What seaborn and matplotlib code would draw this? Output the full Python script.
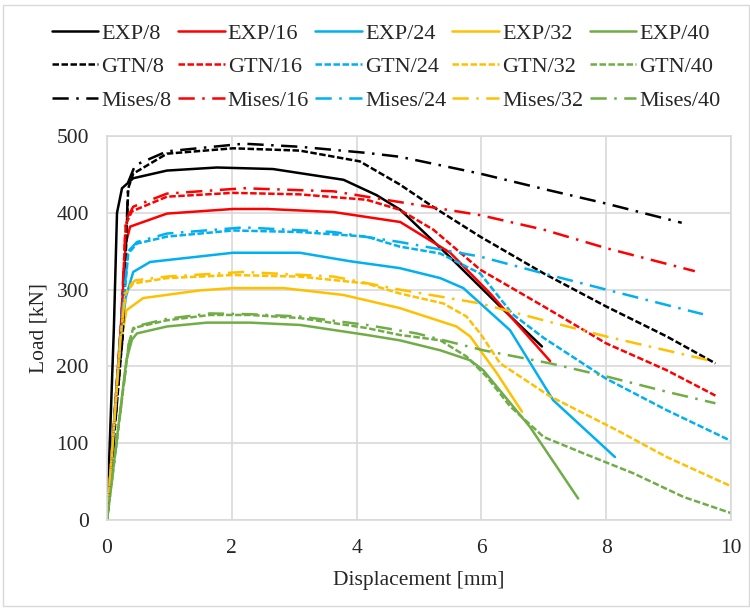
import matplotlib
matplotlib.use("Agg")
import matplotlib.pyplot as plt
from matplotlib.patches import Rectangle
import pandas as pd
import seaborn as sns

# specimen groups and colours
specimens = ["8", "16", "24", "32", "40"]
colors = ["#000000", "#FF0000", "#00B0F0", "#FFC000", "#70AD47"]

# EXP curves
exp8_x = [0, 0.11, 0.16, 0.24, 0.42, 0.96, 1.76, 2.66, 3.79, 4.32, 4.7, 5.5, 6.3, 6.97]
exp8_y = [0, 250, 400, 432, 445, 455, 459, 457, 443, 423, 404, 342, 278, 226]
exp16_x = [0, 0.22, 0.3, 0.37, 0.96, 2.02, 2.56, 3.63, 4.7, 5.5, 6.14, 7.1]
exp16_y = [0, 250, 360, 382, 399, 405, 405, 401, 388, 348, 295, 207]
exp24_x = [0, 0.2, 0.3, 0.42, 0.69, 2.02, 3.09, 3.89, 4.69, 5.34, 5.71, 6.46, 7.15, 8.14]
exp24_y = [0, 220, 290, 323, 336, 348, 348, 337, 328, 315, 302, 247, 156, 82]
exp32_x = [0, 0.2, 0.31, 0.58, 1.49, 2.02, 2.83, 3.79, 4.69, 5.6, 5.82, 6.24, 6.65]
exp32_y = [0, 220, 273, 289, 299, 302, 302, 293, 276, 252, 239, 192, 141]
exp40_x = [0, 0.31, 0.4, 0.48, 0.96, 1.6, 2.29, 3.09, 4.16, 4.69, 5.34, 5.82, 6.03, 6.78, 7.55]
exp40_y = [0, 208, 235, 243, 252, 257, 257, 254, 241, 234, 221, 208, 195, 121, 28]

# GTN curves
gtn8_x = [0, 0.25, 0.34, 0.42, 0.96, 2.02, 3.09, 4.05, 4.69, 5.22, 5.98, 7.0, 8.0, 8.97, 9.75]
gtn8_y = [0, 240, 432, 451, 477, 484, 481, 467, 437, 408, 369, 321, 278, 239, 204]
gtn16_x = [0, 0.23, 0.3, 0.4, 0.96, 2.02, 3.09, 4.16, 4.69, 5.23, 5.98, 7.0, 8.0, 8.97, 9.75]
gtn16_y = [0, 260, 385, 402, 421, 426, 424, 417, 404, 378, 326, 278, 230, 195, 162]
gtn24_x = [0, 0.22, 0.34, 0.48, 0.96, 2.02, 3.09, 4.16, 4.69, 5.34, 5.98, 6.5, 7.0, 8.0, 8.97, 10.0]
gtn24_y = [0, 240, 347, 360, 369, 377, 375, 369, 356, 347, 321, 268, 237, 184, 143, 103]
gtn32_x = [0, 0.22, 0.3, 0.42, 0.96, 2.02, 3.09, 4.16, 4.69, 5.39, 5.76, 5.98, 6.3, 7.1, 8.17, 8.97, 10.0]
gtn32_y = [0, 240, 295, 308, 315, 319, 317, 308, 295, 282, 265, 243, 204, 161, 117, 82, 44]
gtn40_x = [0, 0.35, 0.42, 0.96, 1.65, 2.29, 3.09, 4.16, 4.69, 5.34, 5.76, 6.08, 6.46, 7.0, 7.63, 8.43, 9.24, 10.0]
gtn40_y = [0, 230, 250, 260, 267, 267, 263, 250, 241, 234, 213, 187, 148, 108, 87, 61, 30, 9]

# Mises curves
mises8_x = [0, 0.25, 0.34, 0.45, 0.96, 2.19, 3.09, 4.16, 4.69, 5.98, 7.05, 8.0, 9.21]
mises8_y = [0, 240, 440, 462, 480, 490, 486, 478, 473, 451, 430, 412, 387]
mises16_x = [0, 0.23, 0.3, 0.42, 0.96, 2.19, 3.63, 4.69, 5.98, 7.0, 8.0, 9.42]
mises16_y = [0, 260, 390, 408, 425, 432, 428, 414, 397, 378, 354, 324]
mises24_x = [0, 0.22, 0.34, 0.48, 0.96, 2.19, 3.63, 4.69, 5.98, 7.0, 8.0, 9.55]
mises24_y = [0, 250, 350, 362, 373, 381, 375, 362, 343, 321, 300, 268]
mises32_x = [0, 0.22, 0.3, 0.45, 0.96, 2.19, 3.63, 4.69, 5.98, 7.0, 8.0, 9.7]
mises32_y = [0, 240, 300, 312, 317, 323, 317, 300, 282, 260, 239, 207]
mises40_x = [0, 0.35, 0.45, 0.96, 1.65, 2.29, 3.09, 4.16, 4.96, 6.03, 7.1, 8.0, 8.97, 9.75]
mises40_y = [0, 230, 252, 262, 269, 268, 265, 254, 243, 221, 204, 187, 167, 152]

curves = {
    "EXP": [(exp8_x, exp8_y), (exp16_x, exp16_y), (exp24_x, exp24_y),
            (exp32_x, exp32_y), (exp40_x, exp40_y)],
    "GTN": [(gtn8_x, gtn8_y), (gtn16_x, gtn16_y), (gtn24_x, gtn24_y),
            (gtn32_x, gtn32_y), (gtn40_x, gtn40_y)],
    "Mises": [(mises8_x, mises8_y), (mises16_x, mises16_y), (mises24_x, mises24_y),
              (mises32_x, mises32_y), (mises40_x, mises40_y)],
}
line_styles = {
    "EXP": "-",
    "GTN": (0, (2.6, 1.0)),
    "Mises": (0, (6.5, 3.0, 1.0, 3.0)),
}

sns.set_style("white")
plt.rcParams["font.family"] = ["Liberation Serif", "DejaVu Serif"]

fig = plt.figure(figsize=(7.5, 6.08), dpi=100)
ax = fig.add_axes([0.1427, 0.1447, 0.832, 0.6316])

handles = {}
for model, series in curves.items():
    for spec, color, (xs, ys) in zip(specimens, colors, series):
        df = pd.DataFrame({"x": xs, "y": ys})
        sns.lineplot(data=df, x="x", y="y", ax=ax, color=color, sort=False,
                     estimator=None, linewidth=1.8, linestyle=line_styles[model],
                     label=f"{model}/{spec}", legend=False)
        handles[f"{model}/{spec}"] = ax.lines[-1]

ax.set_xlim(0, 10)
ax.set_ylim(0, 500)
ax.set_xticks(range(0, 11, 2))
ax.set_yticks(range(0, 501, 100))
ax.grid(True, color="#d9d9d9", linewidth=1.2)
ax.set_axisbelow(True)
for sp in ax.spines.values():
    sp.set_color("#d9d9d9")
    sp.set_linewidth(1.2)
ax.tick_params(axis="both", length=0, labelsize=15.5)
ax.tick_params(axis="y", pad=13)
ax.tick_params(axis="x", pad=14)
ax.set_xlabel("Displacement [mm]", fontsize=15.5, labelpad=9)
ax.set_ylabel("Load [kN]", fontsize=15.5, labelpad=6)

# legend laid out in rows: EXP, GTN, Mises
order = [f"{m}/{s}" for s in specimens for m in ["EXP", "GTN", "Mises"]]
fig.legend([handles[k] for k in order], order, ncol=5, loc="upper left",
           bbox_to_anchor=(0.069, 0.962), frameon=False, fontsize=16,
           handlelength=2.1, handletextpad=0.14, columnspacing=0.28,
           labelspacing=0.58, borderpad=0, borderaxespad=0)

fig.patches.append(Rectangle((0.004, 0.003), 0.994, 0.989, transform=fig.transFigure,
                             fill=False, edgecolor="#d9d9d9", linewidth=1))

fig.savefig("out.png", dpi=100)
